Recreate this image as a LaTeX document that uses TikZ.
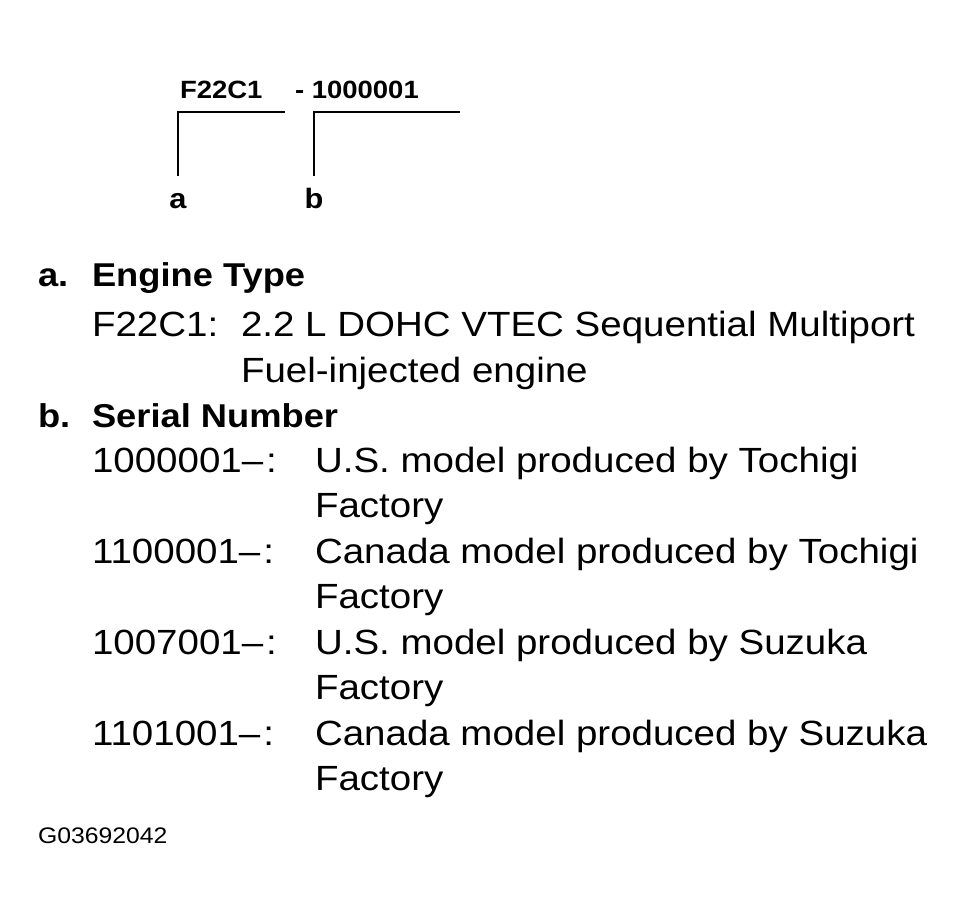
\documentclass[tikz,border=0pt]{standalone}
\usepackage{fontspec}
\setmainfont{Liberation Sans}[FakeStretch=1.1]
\begin{document}
\begin{tikzpicture}[x=1pt,y=-1pt,inner sep=0pt,outer sep=0pt,line width=2pt,
	codetext/.style={anchor=base west,font=\fontsize{25}{28}\selectfont\bfseries},
	tag/.style={anchor=base,text height=24pt,text depth=0pt,font=\fontsize{28}{32}\selectfont\bfseries},
	head/.style={anchor=base west,font=\fontsize{33}{40}\selectfont\bfseries},
	body/.style={anchor=base west,font=\fontsize{35}{42}\selectfont}]
	\useasboundingbox (0,0) rectangle (962,919);
	% engine number
	\node[codetext] (code) at (180,98) {F22C1};
	\node[codetext] (serial) at (295,98) {- 1000001};
	\node[tag] (la) at (178,208) {a};
	\node[tag] (lb) at (314,208) {b};
	\coordinate (ta) at (285,112);
	\coordinate (tb) at (460,112);
	\draw[shorten <=8pt] (la.north) |- (ta);
	\draw[shorten <=8pt] (lb.north) |- (tb);
	% legend a
	\node[head] (ha) at (38,286) {a.};
	\node[head] (hatext) at (92,286) {Engine Type};
	\node[body] (typ) at (92,336) {F22C1:};
	\node[body] (typdesc) at (241,336) {2.2 L DOHC VTEC Sequential Multiport};
	\node[body] (typdesc2) at (241,382) {Fuel-injected engine};
	% legend b
	\node[head] (hb) at (38,427) {b.};
	\node[head] (hbtext) at (92,427) {Serial Number};
	\node[body] (sn1) at (92,472) {1000001\textendash\kern3pt:};
	\node[body] (sn1desc) at (315,472) {U.S. model produced by Tochigi};
	\node[body] (sn1desc2) at (315,517) {Factory};
	\node[body] (sn2) at (92,563) {1100001\textendash\kern3pt:};
	\node[body] (sn2desc) at (315,563) {Canada model produced by Tochigi};
	\node[body] (sn2desc2) at (315,608) {Factory};
	\node[body] (sn3) at (92,654) {1007001\textendash\kern3pt:};
	\node[body] (sn3desc) at (315,654) {U.S. model produced by Suzuka};
	\node[body] (sn3desc2) at (315,699) {Factory};
	\node[body] (sn4) at (92,745) {1101001\textendash\kern3pt:};
	\node[body] (sn4desc) at (315,745) {Canada model produced by Suzuka};
	\node[body] (sn4desc2) at (315,790) {Factory};
	% figure number
	\node[anchor=base west,font=\fontsize{22.5}{26}\selectfont] (fig) at (38,843) {G03692042};
\end{tikzpicture}
\end{document}
